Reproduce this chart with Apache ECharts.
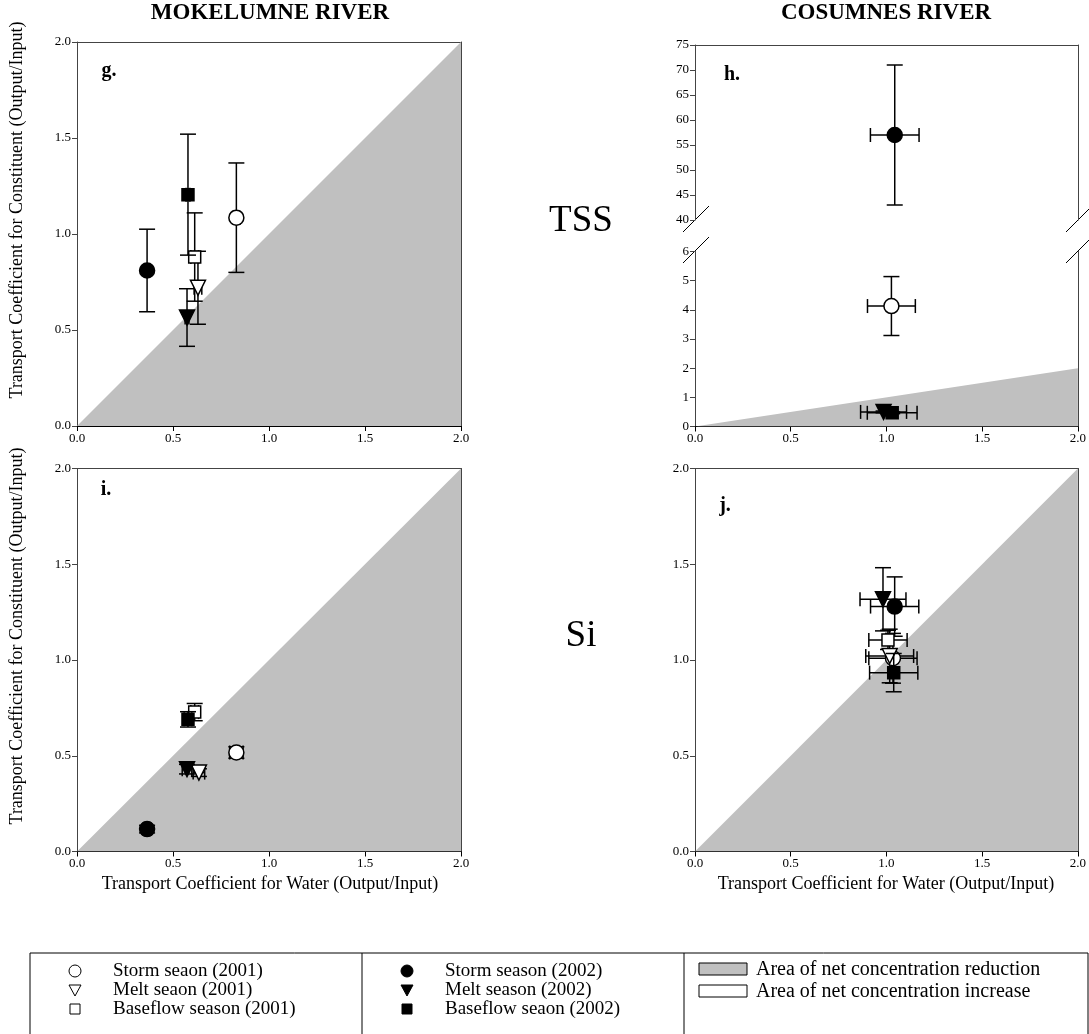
<!DOCTYPE html>
<html>
<head>
<meta charset="utf-8">
<script src="https://cdn.jsdelivr.net/npm/echarts@6/dist/echarts.min.js"></script>
<style>
html, body { margin: 0; padding: 0; background: #fff; }
#chart-container { width: 1089px; height: 1034px; }
</style>
</head>
<body>
<div id="chart-container"></div>
<script>
// seasons, in drawing order (2001 first, 2002 on top)
var seasons = ['Storm seaon (2001)', 'Melt seaon (2001)', 'Baseflow season (2001)',
               'Storm season (2002)', 'Melt season (2002)', 'Baseflow seaon (2002)'];

// g. Mokelumne TSS
var mokTssX  = [0.83, 0.63, 0.613, 0.365, 0.573, 0.578];
var mokTssY  = [1.085, 0.72, 0.88, 0.81, 0.565, 1.205];
var mokTssXe = [0.02, 0.02, 0.02, 0.01, 0.01, 0.01];
var mokTssYe = [0.285, 0.19, 0.23, 0.215, 0.15, 0.315];

// h. Cosumnes TSS (melt/baseflow 2001 not visible)
var cosTssX  = [1.026, null, null, 1.043, 0.985, 1.03];
var cosTssY  = [4.13, null, null, 57, 0.5, 0.47];
var cosTssXe = [0.125, null, null, 0.127, 0.12, 0.13];
var cosTssYe = [1.01, null, null, 14, 0.03, 0.03];

// i. Mokelumne Si
var mokSiX  = [0.83, 0.635, 0.613, 0.365, 0.573, 0.578];
var mokSiY  = [0.517, 0.412, 0.728, 0.117, 0.43, 0.69];
var mokSiXe = [0.035, 0.03, 0.02, 0.02, 0.025, 0.02];
var mokSiYe = [0.03, 0.02, 0.045, 0.02, 0.025, 0.04];

// j. Cosumnes Si
var cosSiX  = [1.034, 1.017, 1.008, 1.043, 0.982, 1.038];
var cosSiY  = [1.009, 1.021, 1.105, 1.279, 1.317, 0.934];
var cosSiXe = [0.126, 0.125, 0.1, 0.126, 0.12, 0.126];
var cosSiYe = [0.13, 0.14, 0.05, 0.155, 0.165, 0.1];

// 1:1 line bounding the gray area
var diagonal = [[0, 0], [2, 2]];

var SERIF = 'Liberation Serif';
var dom = document.getElementById('chart-container');
var myChart = echarts.init(dom, null, { renderer: 'canvas' });

var symbols = ['circle', 'triangle', 'rect', 'circle', 'triangle', 'rect'];
var sizes = [15, 15, 12, 15, 15, 12];
var filled = [false, false, false, true, true, true];

// grids: g, h upper, h lower, i, j
var grids = [
  { left: 77, top: 42, width: 384, height: 384 },
  { left: 695, top: 45, width: 383, height: 175 },
  { left: 695, top: 251.5, width: 383, height: 175 },
  { left: 77, top: 468.5, width: 384, height: 383 },
  { left: 695, top: 468.5, width: 383, height: 383 }
];

var yRanges = [
  { min: 0, max: 2, interval: 0.5, dec: 1 },
  { min: 40, max: 75, interval: 5, dec: 0 },
  { min: 0, max: 6, interval: 1, dec: 0 },
  { min: 0, max: 2, interval: 0.5, dec: 1 },
  { min: 0, max: 2, interval: 0.5, dec: 1 }
];

var labelFont = { fontFamily: SERIF, fontSize: 13, color: '#000' };

var xAxes = [], yAxes = [], series = [];

grids.forEach(function (g, gi) {
  var isUpper = gi === 1;
  // bottom x axis
  xAxes.push({
    type: 'value', gridIndex: gi, min: 0, max: 2, interval: 0.5,
    axisLine: { show: !isUpper, lineStyle: { color: '#000', width: 1 } },
    axisTick: { show: !isUpper, inside: false, length: 5, lineStyle: { color: '#000' } },
    axisLabel: { show: !isUpper, margin: 6, formatter: function (v) { return v.toFixed(1); }, textStyle: labelFont },
    splitLine: { show: false }
  });
  // top frame
  xAxes.push({
    type: 'value', gridIndex: gi, position: 'top', min: 0, max: 2,
    axisLine: { show: gi !== 2, onZero: false, lineStyle: { color: '#444', width: 1 } },
    axisTick: { show: false }, axisLabel: { show: false }, splitLine: { show: false }
  });
  var r = yRanges[gi];
  yAxes.push({
    type: 'value', gridIndex: gi, min: r.min, max: r.max, interval: r.interval,
    axisLine: { show: true, onZero: false, lineStyle: { color: '#444', width: 1 } },
    axisTick: { show: true, length: 5, lineStyle: { color: '#444' } },
    axisLabel: { margin: 6, formatter: function (v) { return v.toFixed(r.dec); }, textStyle: labelFont },
    splitLine: { show: false }
  });
  // right frame
  yAxes.push({
    type: 'value', gridIndex: gi, position: 'right', min: r.min, max: r.max,
    axisLine: { show: true, onZero: false, lineStyle: { color: '#444', width: 1 } },
    axisTick: { show: false }, axisLabel: { show: false }, splitLine: { show: false }
  });
});

function xIdx(gi) { return gi * 2; }
function yIdx(gi) { return gi * 2; }

// gray area of net concentration reduction
[0, 2, 3, 4].forEach(function (gi) {
  series.push({
    type: 'line', xAxisIndex: xIdx(gi), yAxisIndex: yIdx(gi),
    data: diagonal, symbol: 'none', silent: true, z: 1,
    lineStyle: { width: 0 },
    areaStyle: { color: '#c0c0c0', opacity: 1 }
  });
});

function errorBars(params, api) {
  var x = api.value(0), y = api.value(1), xe = api.value(2), ye = api.value(3);
  var c = api.coord([x, y]);
  var st = { stroke: '#000', lineWidth: 1.5 };
  var kids = [];
  if (ye > 0) {
    var t = api.coord([x, y + ye]), b = api.coord([x, y - ye]);
    kids.push({ type: 'line', shape: { x1: c[0], y1: t[1], x2: c[0], y2: b[1] }, style: st });
    kids.push({ type: 'line', shape: { x1: c[0] - 8, y1: t[1], x2: c[0] + 8, y2: t[1] }, style: st });
    kids.push({ type: 'line', shape: { x1: c[0] - 8, y1: b[1], x2: c[0] + 8, y2: b[1] }, style: st });
  }
  if (xe > 0) {
    var l = api.coord([x - xe, y]), rr = api.coord([x + xe, y]);
    kids.push({ type: 'line', shape: { x1: l[0], y1: c[1], x2: rr[0], y2: c[1] }, style: st });
    kids.push({ type: 'line', shape: { x1: l[0], y1: c[1] - 7, x2: l[0], y2: c[1] + 7 }, style: st });
    kids.push({ type: 'line', shape: { x1: rr[0], y1: c[1] - 7, x2: rr[0], y2: c[1] + 7 }, style: st });
  }
  return { type: 'group', children: kids };
}

function addPanel(gi, X, Y, XE, YE, filter) {
  for (var s = 0; s < 6; s++) {
    if (X[s] === null) continue;
    if (filter && !filter(Y[s])) continue;
    var pt = [X[s], Y[s], XE[s], YE[s]];
    series.push({
      type: 'custom', xAxisIndex: xIdx(gi), yAxisIndex: yIdx(gi),
      renderItem: errorBars, data: [pt], z: 2 + s, silent: true
    });
    series.push({
      name: seasons[s], type: 'scatter', xAxisIndex: xIdx(gi), yAxisIndex: yIdx(gi),
      data: [[X[s], Y[s]]], symbol: symbols[s], symbolSize: sizes[s],
      symbolRotate: symbols[s] === 'triangle' ? 180 : 0,
      itemStyle: { color: filled[s] ? '#000' : '#fff', borderColor: '#000', borderWidth: 1.5, opacity: 1 },
      z: 3 + s, silent: true
    });
  }
}

addPanel(0, mokTssX, mokTssY, mokTssXe, mokTssYe);
addPanel(1, cosTssX, cosTssY, cosTssXe, cosTssYe, function (v) { return v >= 40; });
addPanel(2, cosTssX, cosTssY, cosTssXe, cosTssYe, function (v) { return v <= 6; });
addPanel(3, mokSiX, mokSiY, mokSiXe, mokSiYe);
addPanel(4, cosSiX, cosSiY, cosSiXe, cosSiYe);

function txt(x, y, s, size, bold, extra) {
  var o = {
    type: 'text', x: x, y: y, silent: true,
    style: { text: s, fill: '#000', font: (bold ? 'bold ' : '') + size + 'px "' + SERIF + '"',
             textAlign: 'center', textVerticalAlign: 'middle' }
  };
  if (extra) Object.assign(o, extra);
  return o;
}
function seg(x1, y1, x2, y2) {
  return { type: 'line', silent: true, shape: { x1: x1, y1: y1, x2: x2, y2: y2 },
           style: { stroke: '#000', lineWidth: 1 } };
}

var graphics = [
  txt(270, 13, 'MOKELUMNE RIVER', 23, true),
  txt(886, 13, 'COSUMNES RIVER', 23, true),
  txt(109, 71, 'g.', 20, true),
  txt(732, 75, 'h.', 20, true),
  txt(106, 490, 'i.', 20, true),
  txt(725, 506, 'j.', 20, true),
  txt(581, 221, 'TSS', 37, false),
  txt(581, 636, 'Si', 37, false),
  txt(270, 884, 'Transport Coefficient for Water (Output/Input)', 18, false),
  txt(886, 884, 'Transport Coefficient for Water (Output/Input)', 18, false),
  txt(17, 210, 'Transport Coefficient for Constituent (Output/Input)', 18, false, { rotation: Math.PI / 2 }),
  txt(17, 636, 'Transport Coefficient for Constituent (Output/Input)', 18, false, { rotation: Math.PI / 2 }),
  // axis break marks on panel h
  seg(683, 232, 709, 206), seg(683, 263, 709, 237),
  seg(1066, 232, 1092, 206), seg(1066, 263, 1092, 237)
];

// legend box
var lgTop = 953, lgLeft = 30, lgRight = 1088, div1 = 362, div2 = 684;
graphics.push({ type: 'rect', silent: true, shape: { x: lgLeft, y: lgTop, width: lgRight - lgLeft, height: 100 },
                style: { fill: 'none', stroke: '#000', lineWidth: 1 } });
graphics.push(seg(div1, lgTop, div1, 1034), seg(div2, lgTop, div2, 1034));

var rowsY = [971, 990, 1009];
function legendMark(cx, cy, s) {
  var fill = filled[s] ? '#000' : '#fff';
  var st = { fill: fill, stroke: '#000', lineWidth: 1 };
  if (symbols[s] === 'circle') return { type: 'circle', silent: true, shape: { cx: cx, cy: cy, r: 6 }, style: st };
  if (symbols[s] === 'rect') return { type: 'rect', silent: true, shape: { x: cx - 5, y: cy - 5, width: 10, height: 10 }, style: st };
  return { type: 'polygon', silent: true, shape: { points: [[cx - 6, cy - 5], [cx + 6, cy - 5], [cx, cy + 6]] }, style: st };
}
for (var s = 0; s < 6; s++) {
  var col = s < 3 ? 0 : 1;
  var mx = col === 0 ? 75 : 407;
  var tx = col === 0 ? 113 : 445;
  var cy = rowsY[s % 3];
  graphics.push(legendMark(mx, cy, s));
  graphics.push({ type: 'text', silent: true, x: tx, y: cy,
    style: { text: seasons[s], fill: '#000', font: '19px "' + SERIF + '"', textAlign: 'left', textVerticalAlign: 'middle' } });
}
graphics.push({ type: 'rect', silent: true, shape: { x: 699, y: 963, width: 48, height: 12 }, style: { fill: '#c0c0c0', stroke: '#000', lineWidth: 1 } });
graphics.push({ type: 'rect', silent: true, shape: { x: 699, y: 985, width: 48, height: 12 }, style: { fill: '#fff', stroke: '#000', lineWidth: 1 } });
graphics.push({ type: 'text', silent: true, x: 756, y: 970,
  style: { text: 'Area of net concentration reduction', fill: '#000', font: '20px "' + SERIF + '"', textAlign: 'left', textVerticalAlign: 'middle' } });
graphics.push({ type: 'text', silent: true, x: 756, y: 992,
  style: { text: 'Area of net concentration increase', fill: '#000', font: '20px "' + SERIF + '"', textAlign: 'left', textVerticalAlign: 'middle' } });

var option = {
  animation: false,
  backgroundColor: '#fff',
  grid: grids.map(function (g) { return Object.assign({ containLabel: false }, g); }),
  xAxis: xAxes,
  yAxis: yAxes,
  series: series,
  graphic: graphics
};

myChart.setOption(option);
window.addEventListener('resize', myChart.resize);
</script>
</body>
</html>
